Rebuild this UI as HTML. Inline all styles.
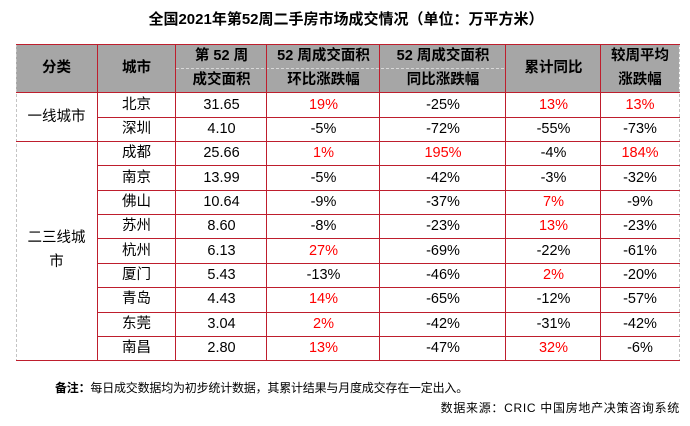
<!DOCTYPE html>
<html>
<head>
<meta charset="utf-8">
<style>
html,body{margin:0;padding:0;background:#fff;}
body{width:690px;height:426px;position:relative;overflow:hidden;font-family:"Liberation Sans","Noto Sans CJK SC",sans-serif;color:#000;}
.c{position:absolute;display:flex;align-items:center;justify-content:center;font-size:14.5px;line-height:1;white-space:nowrap;}
.h{font-weight:bold;font-size:14.5px;}
.red{color:#ff0000;}
.k1{left:16px;width:81px}
.k2{left:97px;width:79px}
.k3{left:176px;width:91px}
.k4{left:267px;width:113px}
.k5{left:380px;width:126px}
.k6{left:506px;width:95px}
.k7{left:601px;width:78px}
.r1{top:93px;height:24px}
.r2{top:117px;height:24px}
.r3{top:141px;height:25px}
.r4{top:166px;height:24px}
.r5{top:190px;height:24px}
.r6{top:214px;height:25px}
.r7{top:239px;height:24px}
.r8{top:263px;height:24px}
.r9{top:287px;height:25px}
.r10{top:312px;height:24px}
.r11{top:336px;height:24px}
.ha{top:44px;height:49px}
.hl1{top:48px;height:17px}
.hl2{top:72px;height:17px}
#title{position:absolute;left:0;width:692px;top:11px;text-align:center;font-size:15px;font-weight:bold;line-height:18px;font-family:"Liberation Sans","Noto Sans CJK SC",sans-serif;}
#note{position:absolute;left:55px;top:381px;font-size:12px;line-height:14px;white-space:nowrap;letter-spacing:-0.2px;}
#src{position:absolute;right:10px;top:401px;font-size:12px;line-height:14px;white-space:nowrap;letter-spacing:0.7px;}
</style>
</head>
<body>
<div id="title">全国2021年第52周二手房市场成交情况（单位：万平方米）</div>

<svg width="690" height="426" style="position:absolute;left:0;top:0" shape-rendering="crispEdges">
  <rect x="16" y="44" width="663" height="49" fill="#a6a6a6"/>
  <line x1="176" y1="68.5" x2="506" y2="68.5" stroke="#d8d8d8" stroke-width="1" stroke-dasharray="3,2"/>
  <line x1="16.5" y1="44" x2="16.5" y2="361" stroke="#c4c4c4" stroke-width="1" stroke-dasharray="3,2"/>
  <line x1="679.5" y1="44" x2="679.5" y2="361" stroke="#c4c4c4" stroke-width="1" stroke-dasharray="3,2"/>
  <g fill="#be1e2d">
    <rect x="16" y="44" width="664" height="1"/>
    <rect x="16" y="92" width="664" height="1"/>
    <rect x="97" y="117" width="583" height="1"/>
    <rect x="16" y="141" width="664" height="1"/>
    <rect x="97" y="165" width="583" height="1"/>
    <rect x="97" y="190" width="583" height="1"/>
    <rect x="97" y="214" width="583" height="1"/>
    <rect x="97" y="238" width="583" height="1"/>
    <rect x="97" y="263" width="583" height="1"/>
    <rect x="97" y="287" width="583" height="1"/>
    <rect x="97" y="312" width="583" height="1"/>
    <rect x="97" y="336" width="583" height="1"/>
    <rect x="16" y="360" width="664" height="1"/>
    <rect x="97" y="44" width="1" height="317"/>
    <rect x="175" y="44" width="1" height="317"/>
    <rect x="266" y="44" width="1" height="317"/>
    <rect x="379" y="44" width="1" height="317"/>
    <rect x="505" y="44" width="1" height="317"/>
    <rect x="600" y="44" width="1" height="317"/>
  </g>
</svg>

<div class="c h k1 ha">分类</div>
<div class="c h k2 ha">城市</div>
<div class="c h k3 hl1">第 52 周</div>
<div class="c h k3 hl2">成交面积</div>
<div class="c h k4 hl1">52 周成交面积</div>
<div class="c h k4 hl2">环比涨跌幅</div>
<div class="c h k5 hl1">52 周成交面积</div>
<div class="c h k5 hl2">同比涨跌幅</div>
<div class="c h k6 ha">累计同比</div>
<div class="c h k7 hl1">较周平均</div>
<div class="c h k7 hl2">涨跌幅</div>

<div class="c k1" style="top:93px;height:48px;">一线城市</div>
<div class="c k1" style="top:229px;height:18px;">二三线城</div>
<div class="c k1" style="top:253px;height:18px;">市</div>

<div class="c k2 r1">北京</div><div class="c k3 r1">31.65</div><div class="c k4 r1 red">19%</div><div class="c k5 r1">-25%</div><div class="c k6 r1 red">13%</div><div class="c k7 r1 red">13%</div>
<div class="c k2 r2">深圳</div><div class="c k3 r2">4.10</div><div class="c k4 r2">-5%</div><div class="c k5 r2">-72%</div><div class="c k6 r2">-55%</div><div class="c k7 r2">-73%</div>
<div class="c k2 r3">成都</div><div class="c k3 r3">25.66</div><div class="c k4 r3 red">1%</div><div class="c k5 r3 red">195%</div><div class="c k6 r3">-4%</div><div class="c k7 r3 red">184%</div>
<div class="c k2 r4">南京</div><div class="c k3 r4">13.99</div><div class="c k4 r4">-5%</div><div class="c k5 r4">-42%</div><div class="c k6 r4">-3%</div><div class="c k7 r4">-32%</div>
<div class="c k2 r5">佛山</div><div class="c k3 r5">10.64</div><div class="c k4 r5">-9%</div><div class="c k5 r5">-37%</div><div class="c k6 r5 red">7%</div><div class="c k7 r5">-9%</div>
<div class="c k2 r6">苏州</div><div class="c k3 r6">8.60</div><div class="c k4 r6">-8%</div><div class="c k5 r6">-23%</div><div class="c k6 r6 red">13%</div><div class="c k7 r6">-23%</div>
<div class="c k2 r7">杭州</div><div class="c k3 r7">6.13</div><div class="c k4 r7 red">27%</div><div class="c k5 r7">-69%</div><div class="c k6 r7">-22%</div><div class="c k7 r7">-61%</div>
<div class="c k2 r8">厦门</div><div class="c k3 r8">5.43</div><div class="c k4 r8">-13%</div><div class="c k5 r8">-46%</div><div class="c k6 r8 red">2%</div><div class="c k7 r8">-20%</div>
<div class="c k2 r9">青岛</div><div class="c k3 r9">4.43</div><div class="c k4 r9 red">14%</div><div class="c k5 r9">-65%</div><div class="c k6 r9">-12%</div><div class="c k7 r9">-57%</div>
<div class="c k2 r10">东莞</div><div class="c k3 r10">3.04</div><div class="c k4 r10 red">2%</div><div class="c k5 r10">-42%</div><div class="c k6 r10">-31%</div><div class="c k7 r10">-42%</div>
<div class="c k2 r11">南昌</div><div class="c k3 r11">2.80</div><div class="c k4 r11 red">13%</div><div class="c k5 r11">-47%</div><div class="c k6 r11 red">32%</div><div class="c k7 r11">-6%</div>

<div id="note"><b>备注：</b>每日成交数据均为初步统计数据，其累计结果与月度成交存在一定出入。</div>
<div id="src">数据来源：CRIC 中国房地产决策咨询系统</div>
</body>
</html>
